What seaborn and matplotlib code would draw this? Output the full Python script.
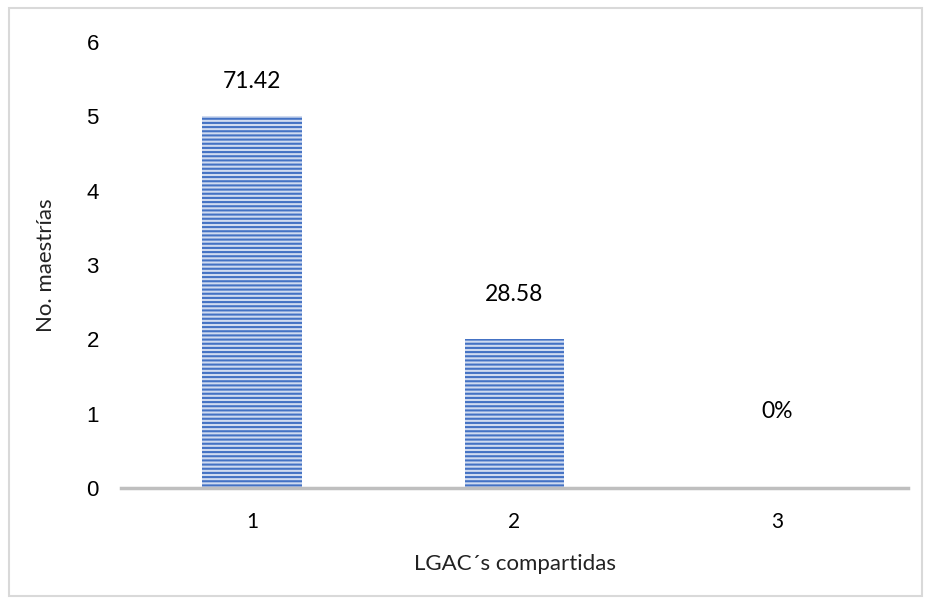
import numpy as np
import pandas as pd
import matplotlib
matplotlib.use('Agg')
import matplotlib.pyplot as plt
import seaborn as sns

# datos
categorias = ['1', '2', '3']
maestrias = [5, 2, 0]
etiquetas = ['71.42', '28.58', '0%']
offset_px = [35, 45, 76]   # separacion de la etiqueta sobre la barra

df = pd.DataFrame({'lgac': categorias, 'n': maestrias})

sns.set_style('white')
plt.rcParams['hatch.linewidth'] = 1.5

fig = plt.figure(figsize=(9.25, 6.04), dpi=100)
ax = fig.add_axes([121/925, 1-488/604, (908-121)/925, (488-42)/604])

sns.barplot(data=df, x='lgac', y='n', ax=ax, color='#d0dbf0', width=0.38,
            saturation=1, edgecolor='#4472C4', linewidth=0)
for p in ax.patches:
    p.set_hatch('----')

for i, (v, lab) in enumerate(zip(maestrias, etiquetas)):
    ax.annotate(lab, (i, v), xytext=(0, offset_px[i] * 0.72),
                textcoords='offset points', ha='center', va='center',
                fontsize=16.5, family='Lato', color='#000000')

ax.set_ylim(0, 6)
ax.set_xlim(-0.5, 2.5)
ax.set_yticks(range(7))
ax.tick_params(axis='y', labelsize=16, length=0, pad=16, labelcolor='black')
ax.tick_params(axis='x', labelsize=15, length=0, pad=17, labelcolor='black')
for t in ax.get_yticklabels():
    t.set_family('Liberation Sans')
for t in ax.get_xticklabels():
    t.set_family('Lato')

ax.set_xlabel('LGAC´s compartidas', fontsize=16, family='Lato',
              color='#222222', labelpad=16)
ax.set_ylabel('No. maestrías', fontsize=16, family='Lato',
              color='#222222', labelpad=22)

for s in ['top', 'right', 'left']:
    ax.spines[s].set_visible(False)
ax.spines['bottom'].set_color('#bfbfbf')
ax.spines['bottom'].set_linewidth(2.5)

fig.patches.append(plt.Rectangle((9/925, 8/604), (922-9)/925, (596-8)/604,
                                 transform=fig.transFigure, fill=False,
                                 edgecolor='#d9d9d9', linewidth=1.5))

fig.savefig('out.png', dpi=100)
